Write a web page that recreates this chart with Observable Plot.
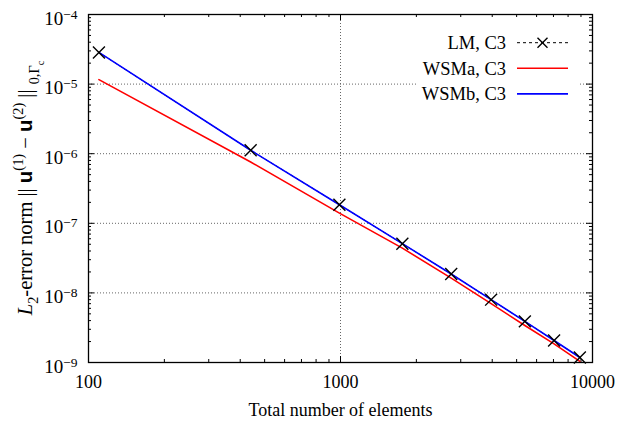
<!DOCTYPE html>
<html>
<head>
<meta charset="utf-8">
<script src="https://cdn.jsdelivr.net/npm/d3@7"></script>
<script src="https://cdn.jsdelivr.net/npm/@observablehq/plot@0.6"></script>
<style>
  body { margin: 0; background: #fff; }
  #chart { width: 618px; height: 429px; }
  #chart svg text { font-family: "Liberation Serif", "Times New Roman", serif; }
</style>
</head>
<body>
<div id="chart"></div>
<script>
// Mesh sizes (total number of elements) and the L2 error norms per method
const elements = [110, 440, 990, 1760, 2750, 3960, 5390, 7040, 8910];
const errLM    = [2.85e-5, 1.12e-6, 1.85e-7, 5.1e-8, 1.87e-8, 8.0e-9, 3.9e-9, 2.07e-9, 1.18e-9];
const errWSMa  = [1.16e-5, 7.6e-7, 1.40e-7, 4.4e-8, 1.63e-8, 7.0e-9, 3.4e-9, 1.85e-9, 1.04e-9];
const errWSMb  = [2.85e-5, 1.12e-6, 1.85e-7, 5.1e-8, 1.87e-8, 8.0e-9, 3.9e-9, 2.07e-9, 1.18e-9];

const seriesNames  = ["LM, C3", "WSMa, C3", "WSMb, C3"];
const seriesColors = ["black", "#ff0000", "#0000ff"];

// Axis ticks
const xTickValues = [100, 1000, 10000];
const yTickValues = [1e-9, 1e-8, 1e-7, 1e-6, 1e-5, 1e-4];
const xMinorTicks = [200, 300, 400, 500, 600, 700, 800, 900, 2000, 3000, 4000, 5000, 6000, 7000, 8000, 9000];
const yMinorTicks = [];
for (let k = -9; k < -4; k++) for (let m = 2; m <= 9; m++) yMinorTicks.push(m * Math.pow(10, k));

const toRows = vals => elements.map((n, i) => ({n, e: vals[i]}));
const lmRows = toRows(errLM), aRows = toRows(errWSMa), bRows = toRows(errWSMb);

const W = 618, H = 429;
const M = {left: 88, right: 26, top: 14, bottom: 67};
const innerW = W - M.left - M.right, innerH = H - M.top - M.bottom;
const major = 6, minor = 3;
const serif = "Liberation Serif";

const chart = Plot.plot({
  width: W, height: H,
  marginLeft: M.left, marginRight: M.right, marginTop: M.top, marginBottom: M.bottom,
  x: {type: "log", domain: [100, 10000]},
  y: {type: "log", domain: [1e-9, 1e-4]},
  style: "font-family: 'Liberation Serif', serif; font-size: 18px; color: black; background: white;",
  marks: [
    // dotted grid at interior decades
    Plot.gridX([1000], {stroke: "#666", strokeOpacity: 1, strokeDasharray: "1,2"}),
    Plot.gridY([1e-8, 1e-7, 1e-6, 1e-5], {stroke: "#666", strokeOpacity: 1, strokeDasharray: "1,2"}),
    // inward ticks on all four sides
    Plot.tickX(xTickValues, {x: d => d, insetTop: innerH - major, stroke: "black"}),
    Plot.tickX(xTickValues, {x: d => d, insetBottom: innerH - major, stroke: "black"}),
    Plot.tickX(xMinorTicks, {x: d => d, insetTop: innerH - minor, stroke: "black"}),
    Plot.tickX(xMinorTicks, {x: d => d, insetBottom: innerH - minor, stroke: "black"}),
    Plot.tickY(yTickValues, {y: d => d, insetRight: innerW - major, stroke: "black"}),
    Plot.tickY(yTickValues, {y: d => d, insetLeft: innerW - major, stroke: "black"}),
    Plot.tickY(yMinorTicks, {y: d => d, insetRight: innerW - minor, stroke: "black"}),
    Plot.tickY(yMinorTicks, {y: d => d, insetLeft: innerW - minor, stroke: "black"}),
    // series
    Plot.line(lmRows, {x: "n", y: "e", stroke: seriesColors[0], strokeWidth: 1, strokeDasharray: "3,3"}),
    Plot.line(aRows, {x: "n", y: "e", stroke: seriesColors[1], strokeWidth: 1.6}),
    Plot.line(bRows, {x: "n", y: "e", stroke: seriesColors[2], strokeWidth: 1.6}),
    Plot.dot(lmRows, {x: "n", y: "e", symbol: "times", r: 5.5, stroke: "black", strokeWidth: 1.4}),
    Plot.frame({stroke: "black", strokeWidth: 1.3}),
    // axes
    Plot.axisX(xTickValues, {tickSize: 0, tickPadding: 13, tickFormat: d => String(d), label: null, fontSize: 18, fontFamily: serif}),
    Plot.axisY(yTickValues, {tickSize: 0, tickPadding: 11, dy: 4, tickFormat: d => String(Math.round(Math.log10(d))), label: null, fontSize: 19, fontFamily: serif}),
    Plot.text(["Total number of elements"], {frameAnchor: "bottom", dy: 48, lineAnchor: "middle", fontSize: 18, fontFamily: serif})
  ]
});

document.getElementById("chart").appendChild(chart);
const svg = d3.select(chart);

// y tick labels as powers of ten
svg.selectAll('[aria-label="y-axis tick label"] text').each(function () {
  const exp = this.textContent.replace("-", "\u2212");
  const t = d3.select(this);
  t.text(null);
  t.append("tspan").text("10");
  t.append("tspan").attr("dy", "-0.45em").attr("font-size", "13.5px").text(exp);
});

// y axis title: L2-error norm || u(1) − u(2) ||_{0,Γc}
const fs = 20.5;
const title = svg.append("text")
  .attr("transform", `translate(32,${M.top + innerH / 2}) rotate(-90)`)
  .attr("text-anchor", "middle")
  .attr("font-size", fs)
  .attr("fill", "black");
const parts = [
  {s: "L", italic: true, shift: 0},
  {s: "2", shift: 0.3, size: 0.7},
  {s: "-error norm || ", shift: 0},
  {s: "u", bold: true, shift: 0},
  {s: "(1)", shift: -0.45, size: 0.7},
  {s: " \u2212 ", shift: 0},
  {s: "u", bold: true, shift: 0},
  {s: "(2)", shift: -0.45, size: 0.7},
  {s: " || ", shift: 0},
  {s: "0,\u0393", shift: 0.35, size: 0.7},
  {s: "c", shift: 0.6, size: 0.5}
];
let prev = 0;
for (const p of parts) {
  const ts = title.append("tspan").text(p.s).attr("dy", ((p.shift - prev) * fs).toFixed(2));
  prev = p.shift;
  if (p.size) ts.attr("font-size", fs * p.size);
  if (p.italic) ts.attr("font-style", "italic");
  if (p.bold) ts.attr("font-weight", "bold").style("font-family", "'Liberation Sans', sans-serif");
}

// legend in the upper right corner of the frame
const fx = M.left + innerW, fy = M.top;
const legend = svg.append("g");
legend.append("rect")
  .attr("x", fx - 175).attr("y", fy + 14).attr("width", 163).attr("height", 80)
  .attr("fill", "white");
seriesNames.forEach((name, i) => {
  const cy = fy + 28.7 + i * 25.6;
  legend.append("text")
    .attr("x", fx - 86).attr("y", cy).attr("dy", "0.35em")
    .attr("text-anchor", "end")
    .attr("font-size", 18.5)
    .text(name);
  legend.append("line")
    .attr("x1", fx - 75).attr("x2", fx - 24).attr("y1", cy).attr("y2", cy)
    .attr("stroke", seriesColors[i])
    .attr("stroke-width", i === 0 ? 1 : 1.6)
    .attr("stroke-dasharray", i === 0 ? "3,3" : null);
  if (i === 0) {
    const cx = fx - 49.5, r = 5;
    legend.append("path")
      .attr("d", `M${cx - r},${cy - r}L${cx + r},${cy + r}M${cx - r},${cy + r}L${cx + r},${cy - r}`)
      .attr("stroke", "black").attr("stroke-width", 1.4);
  }
});
</script>
</body>
</html>
